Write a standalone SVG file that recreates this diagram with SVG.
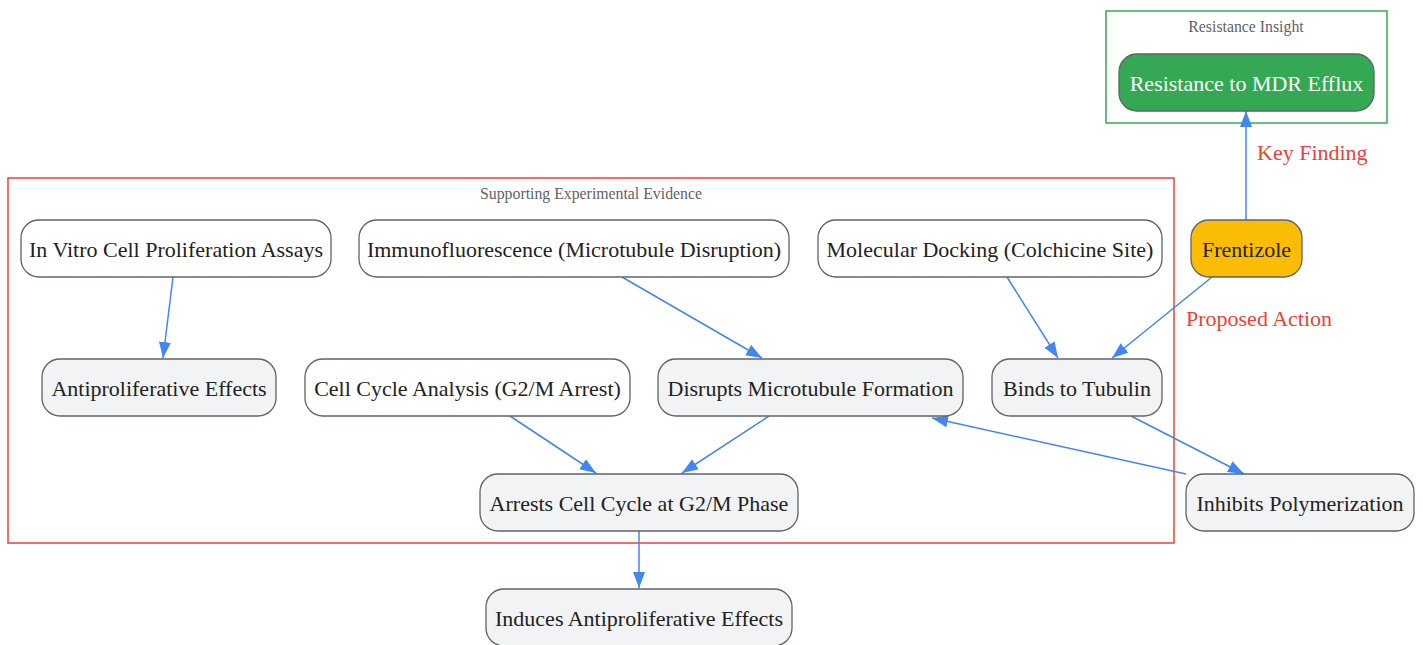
<svg xmlns="http://www.w3.org/2000/svg" width="1423" height="645" viewBox="0 0 1423 645">
<defs>
<marker id="arr" markerUnits="userSpaceOnUse" markerWidth="17" markerHeight="13" refX="16" refY="6" orient="auto">
<path d="M0,0 L16,6 L0,12 z" fill="#4285f4"/>
</marker>
<style>
.cl-title{font-family:"Liberation Serif",serif;font-size:15.8px;fill:#5f6368;text-anchor:middle}
.node rect{stroke:#5f6368;stroke-width:1.3}
.node text{font-family:"Liberation Serif",serif;font-size:22px;fill:#222;text-anchor:middle;dominant-baseline:central}
.w rect{fill:#ffffff}
.g rect{fill:#f1f3f4}
.e{stroke:#4285f4;stroke-width:1.5;fill:none;marker-end:url(#arr)}
.lbl{font-family:"Liberation Serif",serif;font-size:22px;fill:#ea4335}
</style>
</defs>
<rect width="1423" height="645" fill="#ffffff"/>
<g id="cluster-resistance">
<rect x="1106" y="11" width="281" height="112" fill="none" stroke="#34a853" stroke-width="1.5"/>
<text class="cl-title" x="1246" y="32">Resistance Insight</text>
</g>
<g id="cluster-evidence">
<rect x="8" y="178" width="1166" height="365" fill="none" stroke="#ea4335" stroke-width="1.5"/>
<text class="cl-title" x="591" y="199">Supporting Experimental Evidence</text>
</g>
<g id="connectors">
<line class="e" x1="1246" y1="220" x2="1246" y2="111"/>
<line class="e" x1="173" y1="277" x2="163" y2="358"/>
<line class="e" x1="622" y1="277" x2="762" y2="358"/>
<line class="e" x1="1007" y1="277" x2="1058" y2="358"/>
<line class="e" x1="1212" y1="277" x2="1112" y2="358"/>
<line class="e" x1="510" y1="416" x2="596" y2="473"/>
<line class="e" x1="769" y1="416" x2="682" y2="473"/>
<line class="e" x1="1131" y1="416" x2="1244" y2="474"/>
<line class="e" x1="1186" y1="474" x2="932" y2="418"/>
<line class="e" x1="639" y1="531" x2="639" y2="588"/>
<text class="lbl" x="1257" y="160">Key Finding</text>
<text class="lbl" x="1186" y="326">Proposed Action</text>
</g>
<g id="n-mdr" class="node">
<rect x="1119" y="54" width="255" height="57" rx="18" fill="#34a853"/>
<text x="1246.5" y="83.5" style="fill:#ffffff">Resistance to MDR Efflux</text>
</g>
<g id="n-frentizole" class="node">
<rect x="1191" y="220" width="111" height="57" rx="18" fill="#fbbc05"/>
<text x="1246.5" y="249.5">Frentizole</text>
</g>
<g id="n-invitro" class="node w">
<rect x="21" y="220" width="310" height="57" rx="18"/>
<text x="176" y="249.5">In Vitro Cell Proliferation Assays</text>
</g>
<g id="n-immuno" class="node w">
<rect x="359" y="220" width="430" height="57" rx="18"/>
<text x="574" y="249.5">Immunofluorescence (Microtubule Disruption)</text>
</g>
<g id="n-docking" class="node w">
<rect x="818" y="220" width="344" height="57" rx="18"/>
<text x="990" y="249.5">Molecular Docking (Colchicine Site)</text>
</g>
<g id="n-antiprolif" class="node g">
<rect x="42" y="359" width="234" height="57" rx="18"/>
<text x="159" y="388.5">Antiproliferative Effects</text>
</g>
<g id="n-cellcycle" class="node w">
<rect x="305" y="359" width="325" height="57" rx="18"/>
<text x="467.5" y="388.5">Cell Cycle Analysis (G2/M Arrest)</text>
</g>
<g id="n-disrupts" class="node g">
<rect x="658" y="359" width="305" height="57" rx="18"/>
<text x="810.5" y="388.5">Disrupts Microtubule Formation</text>
</g>
<g id="n-binds" class="node g">
<rect x="992" y="359" width="170" height="57" rx="18"/>
<text x="1077" y="388.5">Binds to Tubulin</text>
</g>
<g id="n-arrests" class="node g">
<rect x="480" y="474" width="318" height="57" rx="18"/>
<text x="639" y="503.5">Arrests Cell Cycle at G2/M Phase</text>
</g>
<g id="n-inhibits" class="node g">
<rect x="1186" y="474" width="228" height="57" rx="18"/>
<text x="1300" y="503.5">Inhibits Polymerization</text>
</g>
<g id="n-induces" class="node g">
<rect x="486" y="589" width="306" height="57" rx="18"/>
<text x="639" y="618.5">Induces Antiproliferative Effects</text>
</g>
</svg>
